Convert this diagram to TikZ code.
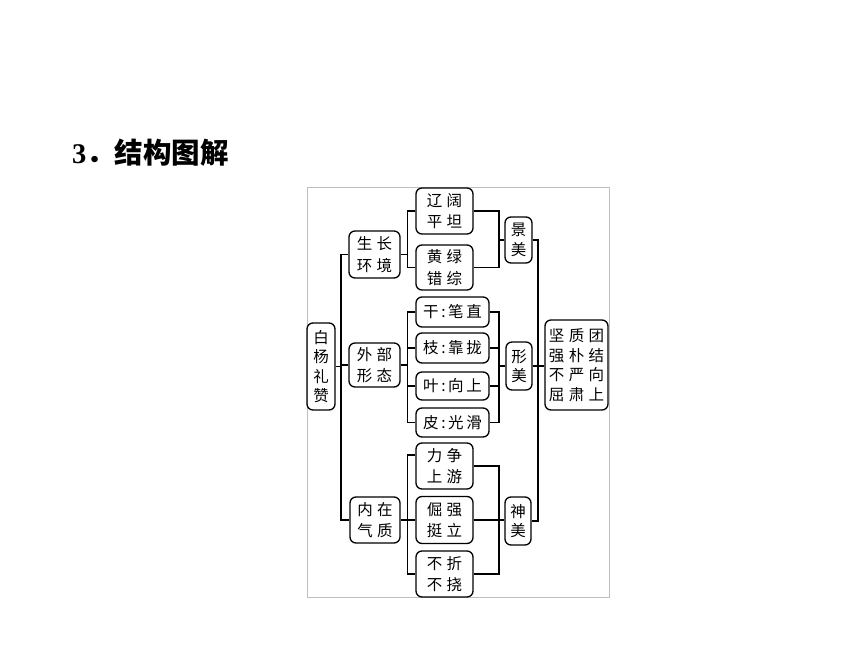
\documentclass[tikz,border=0pt]{standalone}
\usepackage{fontspec}
\setmainfont{Liberation Serif}
\newfontfamily\cjk{Noto Sans CJK SC}
\newcommand{\gp}{\hspace{4.5pt}}
\begin{document}
\begin{tikzpicture}[x=1pt,y=-1pt,
  box/.style={draw, line width=1.3pt, rounded corners=6pt, inner sep=0pt, align=center,
    font=\cjk\fontsize{15.5}{21.5}\selectfont},
  vbox/.style={box, font=\cjk\fontsize{15.5}{19.5}\selectfont},
  conn/.style={line width=1.3pt}]
\useasboundingbox (0,0) rectangle (860,645);
\fill[white] (0,0) rectangle (860,645);
% title
\node[anchor=west, inner sep=0pt, font=\fontsize{28.5}{32}\selectfont] (title) at (72,153)
  {\textbf{3}{\cjk\bfseries ．结构图解}};
% frame
\draw[black!25, line width=1pt] (307,187) rectangle (609,597);
% nodes
\node[vbox, minimum width=28pt, minimum height=87pt] (byl) at (321,366.5) {白\\杨\\礼\\赞};
\node[box, minimum width=51pt, minimum height=47pt] (sz) at (374.5,254.5) {生\gp 长\\环\gp 境};
\node[box, minimum width=51pt, minimum height=44pt] (wb) at (374.5,365) {外\gp 部\\形\gp 态};
\node[box, minimum width=50pt, minimum height=46pt] (nz) at (375,520) {内\gp 在\\气\gp 质};
\node[box, minimum width=57pt, minimum height=46pt] (lk) at (444.5,211) {辽\gp 阔\\平\gp 坦};
\node[box, minimum width=57pt, minimum height=45pt] (hl) at (444.5,267.5) {黄\gp 绿\\错\gp 综};
\node[box, minimum width=73pt, minimum height=30pt] (gan) at (452.5,312) {干\,:\,笔\,直};
\node[box, minimum width=73pt, minimum height=30pt] (zhi) at (452.5,348) {枝\,:\,靠\,拢};
\node[box, minimum width=73pt, minimum height=28pt] (ye) at (452.5,386) {叶\,:\,向\,上};
\node[box, minimum width=73pt, minimum height=29pt] (pi) at (452.5,422.5) {皮\,:\,光\,滑};
\node[box, minimum width=57pt, minimum height=46pt] (lz) at (444.5,466) {力\gp 争\\上\gp 游};
\node[box, minimum width=57pt, minimum height=47pt] (jq) at (444.5,520) {倔\gp 强\\挺\gp 立};
\node[box, minimum width=57pt, minimum height=46pt] (bz) at (444.5,574) {不\gp 折\\不\gp 挠};
\node[vbox, minimum width=27pt, minimum height=46pt] (jm) at (518.5,240) {景\\美};
\node[vbox, minimum width=26pt, minimum height=48pt] (xm) at (519,366) {形\\美};
\node[vbox, minimum width=26pt, minimum height=48pt] (sm) at (518,521) {神\\美};
\node[vbox, minimum width=63pt, minimum height=90pt] (jqbq) at (576.5,365)
  {坚\gp 质\gp 团\\强\gp 朴\gp 结\\不\gp 严\gp 向\\屈\gp 肃\gp 上};
% bus coordinates
\coordinate (t1) at (341,0);
\coordinate (b1) at (407.5,0);
\coordinate (b2) at (499,0);
\coordinate (t2) at (538,0);
% main trunk
\draw[conn] (sz.west) -- (sz.west -| t1) -- (nz.west -| t1) -- (nz.west);
\draw[conn] (byl.east) -- (byl.east -| t1);
\draw[conn] (wb.west) -- (wb.west -| t1);
% group 1
\draw[conn] (lk.west) -- (lk.west -| b1) -- (hl.west -| b1) -- (hl.west);
\draw[conn] (sz.east) -- (sz.east -| b1);
\draw[conn] (lk.east) -- (lk.east -| b2) -- (hl.east -| b2) -- (hl.east);
\draw[conn] (jm.west) -- (jm.west -| b2);
% group 2
\draw[conn] (gan.west) -- (gan.west -| b1) -- (pi.west -| b1) -- (pi.west);
\draw[conn] (zhi.west) -- (zhi.west -| b1);
\draw[conn] (ye.west) -- (ye.west -| b1);
\draw[conn] (wb.east) -- (wb.east -| b1);
\draw[conn] (gan.east) -- (gan.east -| b2) -- (pi.east -| b2) -- (pi.east);
\draw[conn] (zhi.east) -- (zhi.east -| b2);
\draw[conn] (ye.east) -- (ye.east -| b2);
\draw[conn] (xm.west) -- (xm.west -| b2);
% group 3
\draw[conn] ([yshift=11pt]lz.west) -- ([yshift=11pt]lz.west -| b1) -- (bz.west -| b1) -- (bz.west);
\draw[conn] (nz.east) -- (nz.east -| jq.west);
\draw[conn] (lz.east) -- (lz.east -| b2) -- (bz.east -| b2) -- (bz.east);
\draw[conn] (jq.east) -- (jq.east -| sm.west);
% right trunk
\draw[conn] (jm.east) -- (jm.east -| t2) -- (sm.east -| t2) -- (sm.east);
\draw[conn] (xm.east) -- (xm.east -| jqbq.west);
\end{tikzpicture}
\end{document}
